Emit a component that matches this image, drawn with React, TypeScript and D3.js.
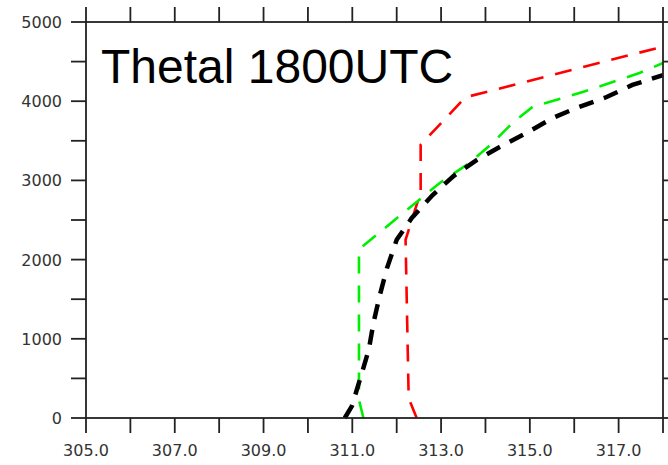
import React from "react";
import * as d3 from "d3";

const xTickValues = [305, 306, 307, 308, 309, 310, 311, 312, 313, 314, 315, 316, 317, 318];
const xLabelValues = [305, 307, 309, 311, 313, 315, 317];
const yTickValues = [0, 500, 1000, 1500, 2000, 2500, 3000, 3500, 4000, 4500, 5000];
const yLabelValues = [0, 1000, 2000, 3000, 4000, 5000];

// [height (m), theta (K)]
const redSeries: [number, number][] = [
  [0, 312.45], [250, 312.27], [2250, 312.2], [2850, 312.54], [3450, 312.54],
  [4050, 313.55], [4690, 318.0],
];
const greenSeries: [number, number][] = [
  [0, 311.25], [230, 311.15], [2130, 311.15], [2967, 312.97], [3220, 313.64],
  [3472, 314.16], [3725, 314.61], [3927, 315.06], [4116, 316.19], [4356, 317.47], [4482, 318.0],
];
const blackSeries: [number, number][] = [
  [0, 310.83], [150, 310.99], [520, 311.19], [860, 311.37], [1210, 311.48],
  [1550, 311.62], [1890, 311.78], [2250, 312.0], [2525, 312.34], [2815, 312.81],
  [3055, 313.28], [3257, 313.8], [3422, 314.32], [3600, 314.93], [3788, 315.51],
  [3914, 316.05], [4053, 316.73], [4205, 317.31], [4330, 318.0],
];

const L = 86, R = 663, T = 22, B = 418;

export default function App() {
  const x = d3.scaleLinear().domain([305, 318]).range([L, R]);
  const y = d3.scaleLinear().domain([0, 5000]).range([B, T]);
  const line = d3.line<[number, number]>().x((d) => x(d[1])).y((d) => y(d[0]));
  const axisColor = "#222";
  const tick = 15;
  const font = "'DejaVu Sans', sans-serif";
  return (
    <svg width={668} height={465} style={{ position: "absolute", left: 0, top: 0, background: "#fff" }}>
      <rect x={0} y={0} width={668} height={465} fill="#fff" />
      <path d={line(redSeries) || ""} fill="none" stroke="#ff0000" strokeWidth={2.6} strokeDasharray="17 12" />
      <path d={line(greenSeries) || ""} fill="none" stroke="#00ee00" strokeWidth={2.6} strokeDasharray="17 12" />
      <path d={line(blackSeries) || ""} fill="none" stroke="#000" strokeWidth={4.5} strokeDasharray="15 11" />
      <rect x={L} y={T} width={R - L} height={B - T} fill="none" stroke={axisColor} strokeWidth={1.8} />
      {xTickValues.map((v) => (
        <g key={"xt" + v}>
          <line x1={x(v)} x2={x(v)} y1={B} y2={B + tick} stroke={axisColor} strokeWidth={1.8} />
          <line x1={x(v)} x2={x(v)} y1={T} y2={T - tick} stroke={axisColor} strokeWidth={1.8} />
        </g>
      ))}
      {yTickValues.map((v) => (
        <g key={"yt" + v}>
          <line x1={L} x2={L - tick} y1={y(v)} y2={y(v)} stroke={axisColor} strokeWidth={1.8} />
          <line x1={R} x2={R + tick} y1={y(v)} y2={y(v)} stroke={axisColor} strokeWidth={1.8} />
        </g>
      ))}
      {xLabelValues.map((v) => (
        <text key={"xl" + v} x={x(v)} y={456} textAnchor="middle" fontFamily={font} fontSize={16} fill="#333">
          {v.toFixed(1)}
        </text>
      ))}
      {yLabelValues.map((v) => (
        <text key={"yl" + v} x={62} y={y(v) + 6} textAnchor="end" fontFamily={font} fontSize={16} fill="#333">
          {v}
        </text>
      ))}
      <text x={101} y={83} fontFamily="'Liberation Sans', Arial, sans-serif" fontSize={48} fill="#000">
        Thetal 1800UTC
      </text>
    </svg>
  );
}
